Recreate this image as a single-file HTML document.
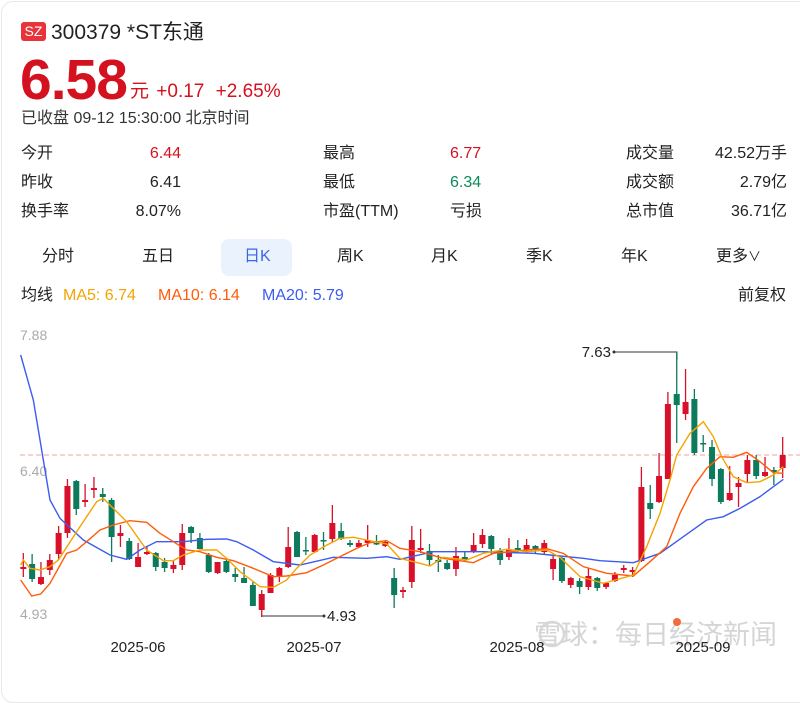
<!DOCTYPE html>
<html><head><meta charset="utf-8"><style>
body{margin:0;width:800px;height:664px;overflow:hidden;background:#fff;font-family:"Liberation Sans","Noto Sans CJK SC",sans-serif;color:#222}
.card{position:absolute;left:1px;top:1px;width:820px;height:700px;border:1px solid #e6e8ec;border-radius:12px}
.a{position:absolute;white-space:nowrap;line-height:20px}
.r{text-align:right}
</style></head><body>
<div class="card"></div>
<div class="a" style="left:21px;top:22px;width:25px;height:19px;background:#e8333a;border-radius:3px;color:#fff;font-size:14px;line-height:19px;text-align:center">SZ</div>
<div class="a" style="left:51px;top:21px;font-size:21px;line-height:24px;color:#222">300379 *ST东通</div>
<div class="a" style="left:20px;top:50px;font-size:57px;line-height:60px;font-weight:bold;color:#d4111f;letter-spacing:-1px">6.58</div>
<div class="a" style="left:130px;top:82px;font-size:19px;color:#d4111f">元 <span style="margin-left:2px">+0.17</span> <span style="margin-left:6px">+2.65%</span></div>
<div class="a" style="left:21px;top:109px;font-size:16px;color:#333">已收盘 09-12 15:30:00 北京时间</div>

<div class="a" style="left:21px;top:144px;font-size:16px">今开</div>
<div class="a" style="left:21px;top:173px;font-size:16px">昨收</div>
<div class="a" style="left:21px;top:202px;font-size:16px">换手率</div>
<div class="a r" style="left:100px;width:81px;top:144px;font-size:16px;color:#d4111f">6.44</div>
<div class="a r" style="left:100px;width:81px;top:173px;font-size:16px">6.41</div>
<div class="a r" style="left:100px;width:81px;top:202px;font-size:16px">8.07%</div>
<div class="a" style="left:323px;top:144px;font-size:16px">最高</div>
<div class="a" style="left:323px;top:173px;font-size:16px">最低</div>
<div class="a" style="left:323px;top:202px;font-size:16px">市盈(TTM)</div>
<div class="a" style="left:450px;top:144px;font-size:16px;color:#d4111f">6.77</div>
<div class="a" style="left:450px;top:173px;font-size:16px;color:#0a8a5a">6.34</div>
<div class="a" style="left:450px;top:202px;font-size:16px">亏损</div>
<div class="a" style="left:626px;top:144px;font-size:16px">成交量</div>
<div class="a" style="left:626px;top:173px;font-size:16px">成交额</div>
<div class="a" style="left:626px;top:202px;font-size:16px">总市值</div>
<div class="a r" style="left:680px;width:107px;top:144px;font-size:16px">42.52万手</div>
<div class="a r" style="left:680px;width:107px;top:173px;font-size:16px">2.79亿</div>
<div class="a r" style="left:680px;width:107px;top:202px;font-size:16px">36.71亿</div>

<div class="a" style="left:221px;top:239px;width:71px;height:37px;background:#e9f2fd;border-radius:8px"></div>
<div class="a" style="left:42px;top:247px;font-size:16px">分时</div>
<div class="a" style="left:142px;top:247px;font-size:16px">五日</div>
<div class="a" style="left:244px;top:247px;font-size:16px;color:#3a66e8">日K</div>
<div class="a" style="left:337px;top:247px;font-size:16px">周K</div>
<div class="a" style="left:431px;top:247px;font-size:16px">月K</div>
<div class="a" style="left:526px;top:247px;font-size:16px">季K</div>
<div class="a" style="left:621px;top:247px;font-size:16px">年K</div>
<div class="a" style="left:716px;top:247px;font-size:16px">更多<span style="font-size:13px">∨</span></div>

<div class="a" style="left:21px;top:286px;font-size:16px">均线</div>
<div class="a" style="left:63px;top:286px;font-size:16px;color:#f5a300">MA5: 6.74</div>
<div class="a" style="left:158px;top:286px;font-size:16px;color:#ff5c0a">MA10: 6.14</div>
<div class="a" style="left:262px;top:286px;font-size:16px;color:#3b5cf0">MA20: 5.79</div>
<div class="a" style="left:738px;top:286px;font-size:16px">前复权</div>

<svg class="a" style="left:0;top:0" width="800" height="664" id="s">
<line x1="20" y1="455" x2="800" y2="455" stroke="#f2a0a0" stroke-width="1" stroke-dasharray="5,3"/>
<text x="20" y="340" font-size="14" fill="#aaa" font-family="Liberation Sans">7.88</text>
<text x="20" y="476" font-size="14" fill="#aaa" font-family="Liberation Sans">6.40</text>
<text x="20" y="619" font-size="14" fill="#aaa" font-family="Liberation Sans">4.93</text>
<circle cx="552" cy="634" r="12" fill="none" stroke="#d8d8d8" stroke-width="2.5"/>
<text x="777" y="644" font-size="27" fill="#d5d5d5" text-anchor="end" font-family="Liberation Sans,Noto Sans CJK SC">雪球：每日经济新闻</text>
<circle cx="677" cy="622" r="4" fill="#f46a3a"/>
<g font-size="15" fill="#222" font-family="Liberation Sans" text-anchor="middle">
<text x="138" y="652">2025-06</text><text x="314" y="652">2025-07</text><text x="517" y="652">2025-08</text><text x="703" y="652">2025-09</text></g>
<polyline points="262,616 324,616" fill="none" stroke="#333"/><circle cx="324" cy="616" r="1.5" fill="#333"/>
<text x="327" y="621" font-size="15" fill="#222" font-family="Liberation Sans">4.93</text>
<polyline points="614,352 677,352 677,360" fill="none" stroke="#333"/><circle cx="614" cy="352" r="1.5" fill="#333"/>
<text x="611" y="357" font-size="15" fill="#222" text-anchor="end" font-family="Liberation Sans">7.63</text>
<g id="c"></g>
</svg>
<script>
var d=[["r",553,567,569,577],["g",554,564,579,582],["r",562,577,584,585],["r",554,560,570,575],["r",526,533,554,560],["r",479,486,533,538],["g",480,481,509,515],["r",484,500,502,507],["r",477,488,490,498],["g",488,494,497,502],["g",498,500,537,562],["r",525,533,536,547],["g",538,541,559,560],["r",543,557,567,567],["r",547,552,554,555],["g",552,553,567,571],["g",558,562,568,572],["r",560,565,569,573],["r",524,533,565,570],["g",526,527,533,543],["g",533,538,549,549],["g",553,555,572,573],["r",562,562,573,574],["g",558,561,572,573],["g",568,574,577,582],["g",567,578,583,583],["g",582,585,606,606],["r",590,594,610,617],["r",573,575,593,593],["r",567,568,576,582],["r",527,547,567,568],["g",531,532,557,557],["g",537,550,551,555],["r",534,535,552,553],["g",532,540,541,550],["r",505,523,539,542],["g",523,531,539,540],["g",540,543,545,547],["r",540,543,547,547],["r",525,540,543,547],["g",535,543,544,545],["r",540,542,546,547],["g",568,578,595,608],["r",587,590,592,598],["r",526,540,582,588],["r",529,548,550,553],["g",544,551,560,565],["g",555,560,562,572],["g",560,563,569,570],["r",547,556,569,576],["g",552,557,560,562],["r",533,545,552,553],["r",529,535,544,548],["g",535,536,549,555],["g",548,551,560,565],["r",538,550,557,560],["g",540,548,550,553],["r",539,545,550,553],["g",545,546,550,553],["r",540,543,552,555],["r",555,559,569,580],["g",557,558,581,583],["r",577,578,585,588],["g",578,581,587,594],["r",568,576,587,590],["g",577,578,588,591],["r",582,583,587,589],["r",572,575,581,582],["r",565,568,570,573],["r",567,570,572,577],["r",467,487,561,562],["g",485,503,509,519],["r",453,476,502,503],["r",392,404,479,479],["g",352,394,405,443],["r",369,402,414,420],["g",389,399,453,455],["g",435,443,444,452],["g",440,447,479,486],["g",468,469,502,504],["r",466,493,500,501],["r",477,483,487,507],["r",455,460,474,483],["g",455,460,476,479],["r",457,472,476,477],["g",467,470,472,485],["r",437,455,468,478]];
var h="";
d.forEach(function(c,i){var x=23.3+i*8.83,col=c[0]=="r"?"#d9102a":"#0c7a5c";var bh=Math.max(c[3]-c[2],1.5);
h+='<line x1="'+x+'" y1="'+c[1]+'" x2="'+x+'" y2="'+c[4]+'" stroke="'+col+'" stroke-width="1.3"/>';
h+='<rect x="'+(x-3)+'" y="'+c[2]+'" width="6" height="'+bh+'" fill="'+col+'"/>';});
function pl(a,b,col){var p=[];a.forEach(function(q){p.push((q[0]/3)+","+(320+q[1]/3))});b.forEach(function(q){p.push((400+q[0]/3)+","+(320+q[1]/3))});
h+='<polyline points="'+p.join(" ")+'" fill="none" stroke="'+col+'" stroke-width="1.4"/>';}
pl([[62,105],[100,240],[150,540],[180,595],[250,660],[330,705],[380,718],[420,690],[470,665],[550,665],[620,658],[680,657],[710,665],[760,690],[820,725],[900,735],[1000,712],[1100,715],[1160,710],[1200,718]],[[100,695],[250,695],[400,700],[450,705],[550,715],[600,722],[700,728],[780,700],[850,650],[920,600],[970,590],[1020,565],[1080,530],[1150,478]],"#3b5cf0");
pl([[62,780],[95,828],[122,822],[150,790],[200,700],[230,690],[260,665],[300,630],[340,615],[390,602],[440,607],[480,640],[520,665],[560,690],[600,695],[650,712],[700,722],[760,745],[820,770],[860,768],[920,758],[970,735],[1020,710],[1070,685],[1110,668],[1160,662],[1200,685]],[[60,695],[130,715],[220,728],[280,700],[380,690],[440,686],[490,700],[550,740],[620,760],[700,768],[750,725],[800,680],[840,580],[880,500],[920,445],[960,410],[1000,412],[1040,397],[1080,425],[1120,458],[1150,460]],"#ff5c0a");
pl([[62,735],[70,720],[90,745],[120,750],[150,740],[175,720],[240,620],[290,545],[310,535],[340,565],[380,605],[440,690],[490,722],[520,722],[550,705],[600,690],[650,690],[680,715],[720,755],[780,800],[820,802],[860,780],[890,745],[930,705],[975,678],[1020,655],[1060,652],[1100,660],[1160,672],[1200,715]],[[60,730],[90,738],[130,712],[200,720],[250,700],[320,688],[380,695],[440,690],[480,712],[540,770],[610,790],[700,765],[740,680],[780,580],[810,480],[830,405],[870,340],[910,305],[940,350],[965,410],[1000,470],[1040,488],[1080,485],[1120,465],[1150,440]],"#f5a300");
document.getElementById("c").innerHTML=h;
</script>
</body></html>
